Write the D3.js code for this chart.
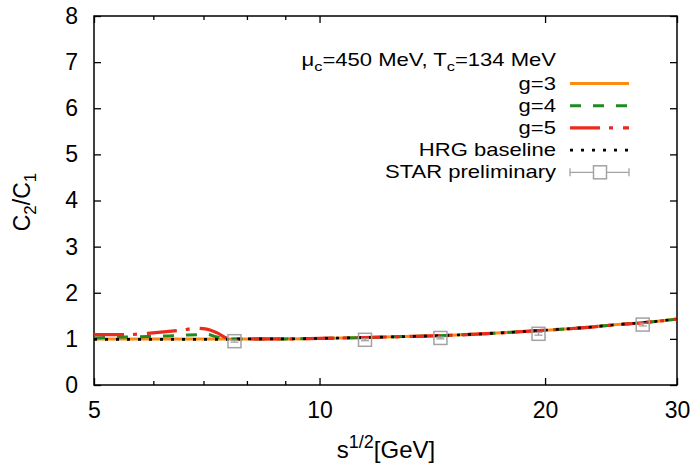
<!DOCTYPE html>
<html><head><meta charset="utf-8">
<script src="https://cdnjs.cloudflare.com/ajax/libs/d3/7.8.5/d3.min.js"></script>
<style>
html,body{margin:0;padding:0;background:#fff;}
svg{display:block;font-family:"Liberation Sans",Arial,Helvetica,sans-serif;}
</style></head>
<body><svg id="chart" width="697" height="466"></svg>
<script>
// ---- data ----
const energies = [5, 5.5, 5.9, 6.2, 6.55, 6.85, 7.07, 7.3, 7.55, 7.7, 8, 9, 10, 11.5, 13, 14.5, 17, 19.6, 22, 25, 27, 30];
const g3  = [1.00, 1.00, 1.00, 1.00, 1.00, 1.00, 1.00, 1.00, 1.00, 1.00, 1.00, 1.00, 1.01, 1.03, 1.05, 1.07, 1.12, 1.18, 1.23, 1.31, 1.35, 1.43];
const g4  = [1.02, 1.04, 1.05, 1.06, 1.08, 1.09, 1.10, 1.04, 1.00, 1.00, 1.00, 1.00, 1.01, 1.03, 1.05, 1.07, 1.12, 1.18, 1.23, 1.31, 1.35, 1.43];
const g5  = [1.09, 1.09, 1.12, 1.15, 1.19, 1.23, 1.21, 1.13, 1.01, 1.00, 1.00, 1.00, 1.01, 1.03, 1.05, 1.07, 1.12, 1.18, 1.23, 1.31, 1.35, 1.43];
const hrg = [0.99, 0.99, 0.99, 0.99, 0.99, 0.99, 0.99, 0.99, 0.99, 0.99, 1.00, 1.00, 1.01, 1.03, 1.05, 1.07, 1.12, 1.18, 1.23, 1.31, 1.35, 1.43];
const starEnergies = [7.7, 11.5, 14.5, 19.6, 27];
const starValues   = [0.95, 0.98, 1.02, 1.11, 1.31];
const starErrors   = [0.02, 0.02, 0.02, 0.03, 0.03];
const xTicks = [5, 10, 20, 30];
const xMinorTicks = [6, 7, 8, 9];
const yTicks = [0, 1, 2, 3, 4, 5, 6, 7, 8];
const seriesNames = ["g=3", "g=4", "g=5", "HRG baseline", "STAR preliminary"];

// ---- layout ----
const L = 94, R = 677, T = 16, B = 385;
const svg = d3.select("#chart");
const x = d3.scaleLog().domain([5, 30]).range([L, R]);
const y = d3.scaleLinear().domain([0, 8]).range([B, T]);

const styles = [
  {color: "#ff8a12", dash: null, width: 3},
  {color: "#1f8a1f", dash: "11,12", width: 3},
  {color: "#ec2a1c", dash: "30,9,4,10", width: 3.2},
  {color: "#000000", dash: "3,8", width: 2.6}
];
const series = [g3, g4, g5, hrg];

// axes (inward ticks)
const axFont = 23;
function styleAxis(g){ g.select(".domain").remove(); g.selectAll("line").attr("stroke","#000").attr("stroke-width",1.3); g.selectAll("text").attr("font-size",axFont).attr("fill","#000").attr("font-family",null); }
svg.append("g").attr("transform",`translate(0,${B})`)
  .call(d3.axisBottom(x).tickValues(xTicks).tickFormat(d3.format("d")).tickSizeInner(-7).tickSizeOuter(0).tickPadding(17)).call(styleAxis);
svg.append("g").attr("transform",`translate(0,${B})`)
  .call(d3.axisBottom(x).tickValues(xMinorTicks).tickFormat("").tickSizeInner(-4).tickSizeOuter(0)).call(styleAxis);
svg.append("g").attr("transform",`translate(0,${T})`)
  .call(d3.axisTop(x).tickValues(xTicks).tickFormat("").tickSizeInner(-7).tickSizeOuter(0)).call(styleAxis);
svg.append("g").attr("transform",`translate(0,${T})`)
  .call(d3.axisTop(x).tickValues(xMinorTicks).tickFormat("").tickSizeInner(-4).tickSizeOuter(0)).call(styleAxis);
svg.append("g").attr("transform",`translate(${L},0)`)
  .call(d3.axisLeft(y).tickValues(yTicks).tickFormat(d3.format("d")).tickSizeInner(-7).tickSizeOuter(0).tickPadding(16)).call(styleAxis);
svg.append("g").attr("transform",`translate(${R},0)`)
  .call(d3.axisRight(y).tickValues(yTicks).tickFormat("").tickSizeInner(-7).tickSizeOuter(0)).call(styleAxis);

// frame
svg.append("rect").attr("x",L).attr("y",T).attr("width",R-L).attr("height",B-T)
  .attr("fill","none").attr("stroke","#000").attr("stroke-width",1.5);

// curves
const line = d3.line().x(d=>x(d[0])).y(d=>y(d[1])).curve(d3.curveMonotoneX);
series.forEach((vals,i)=>{
  const pts = energies.map((e,j)=>[e, vals[j]]);
  svg.append("path").attr("d", line(pts)).attr("fill","none")
    .attr("stroke", styles[i].color).attr("stroke-width", styles[i].width)
    .attr("stroke-dasharray", styles[i].dash).attr("stroke-linecap","butt");
});

// STAR points
const grey = "#a3a3a3";
const sq = 13;
starEnergies.forEach((e,i)=>{
  const cx = x(e), cy = y(starValues[i]);
  const y0 = y(starValues[i]-starErrors[i]), y1 = y(starValues[i]+starErrors[i]);
  svg.append("line").attr("x1",cx).attr("x2",cx).attr("y1",y0).attr("y2",y1).attr("stroke",grey).attr("stroke-width",1.3);
  [y0,y1].forEach(yy=>svg.append("line").attr("x1",cx-4).attr("x2",cx+4).attr("y1",yy).attr("y2",yy).attr("stroke",grey).attr("stroke-width",1.3));
  svg.append("rect").attr("x",cx-sq/2).attr("y",cy-sq/2).attr("width",sq).attr("height",sq)
    .attr("fill","none").attr("stroke",grey).attr("stroke-width",1.5);
});

// axis titles
const yl = svg.append("text").attr("transform","translate(30,202) rotate(-90)")
  .attr("text-anchor","middle").attr("font-size",23).attr("fill","#000");
yl.append("tspan").text("C");
yl.append("tspan").attr("font-size",17).attr("dy",6).text("2");
yl.append("tspan").attr("dy",-6).text("/C");
yl.append("tspan").attr("font-size",17).attr("dy",6).text("1");

const xl = svg.append("text").attr("x",386).attr("y",458)
  .attr("text-anchor","middle").attr("font-size",24).attr("fill","#000");
xl.append("tspan").text("s");
xl.append("tspan").attr("font-size",18).attr("dy",-10).text("1/2");
xl.append("tspan").attr("dy",10).text("[GeV]");

// legend
const legRight = 556, legFont = 17.5, legSX = 1.26;
const title = svg.append("text").attr("transform",`translate(${legRight},66) scale(${legSX},1)`)
  .attr("text-anchor","end").attr("font-size",legFont).attr("fill","#000");
title.append("tspan").text("\u03bc");
title.append("tspan").attr("font-size",13).attr("dy",5).text("c");
title.append("tspan").attr("dy",-5).text("=450 MeV, T");
title.append("tspan").attr("font-size",13).attr("dy",5).text("c");
title.append("tspan").attr("dy",-5).text("=134 MeV");

const sx0 = 570, sx1 = 629;
seriesNames.forEach((name,i)=>{
  const cy = 83.5 + i*22.2;
  svg.append("text").attr("transform",`translate(${legRight},${cy+6}) scale(${legSX},1)`)
    .attr("text-anchor","end").attr("font-size",legFont).attr("fill","#000").text(name);
  if (i < 4) {
    svg.append("line").attr("x1",sx0).attr("x2",sx1).attr("y1",cy).attr("y2",cy)
      .attr("stroke",styles[i].color).attr("stroke-width",styles[i].width)
      .attr("stroke-dasharray",styles[i].dash);
  } else {
    svg.append("line").attr("x1",sx0).attr("x2",sx1).attr("y1",cy).attr("y2",cy).attr("stroke",grey).attr("stroke-width",1.3);
    [sx0,sx1].forEach(xx=>svg.append("line").attr("x1",xx).attr("x2",xx).attr("y1",cy-4).attr("y2",cy+4).attr("stroke",grey).attr("stroke-width",1.3));
    svg.append("rect").attr("x",600-sq/2).attr("y",cy-sq/2).attr("width",sq).attr("height",sq)
      .attr("fill","#fff").attr("stroke",grey).attr("stroke-width",1.5);
  }
});
</script></body></html>
